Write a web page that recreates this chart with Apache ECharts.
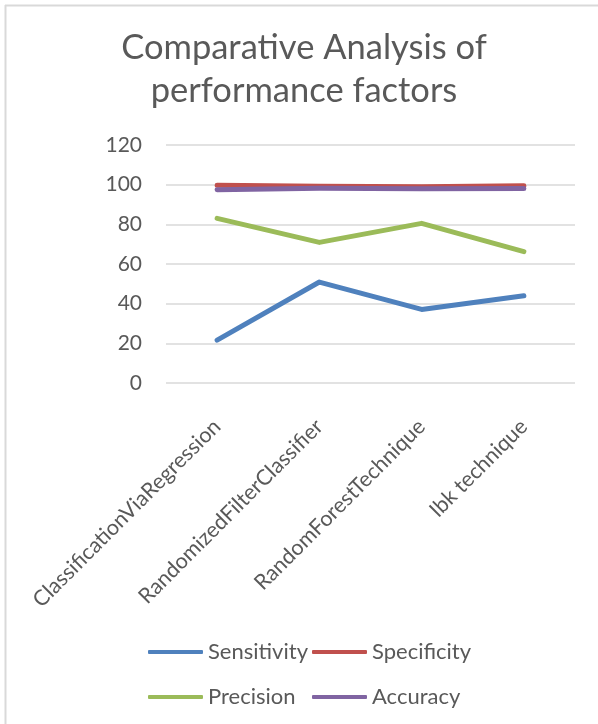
<!DOCTYPE html>
<html>
<head>
<meta charset="utf-8">
<script src="https://cdn.jsdelivr.net/npm/echarts@6/dist/echarts.min.js"></script>
<style>
  html, body { margin: 0; padding: 0; background: #ffffff; }
  #chart { width: 598px; height: 724px; }
</style>
</head>
<body>
<div id="chart"></div>
<script>
// Classifier names along the x axis
const categories = ['ClassificationViaRegression', 'RandomizedFilterClassifier', 'RandomForestTechnique', 'Ibk technique'];

// Performance factors per classifier (%)
const sensitivity = [21.6, 50.9, 37.1, 44.0];
const specificity = [99.7, 99.2, 99.0, 99.4];
const precision   = [83.0, 70.9, 80.5, 66.2];
const accuracy    = [97.4, 98.2, 97.9, 98.1];

// Value axis range
const yMin = 0, yMax = 120, yStep = 20;

const seriesNames = ['Sensitivity', 'Specificity', 'Precision', 'Accuracy'];
const seriesValues = [sensitivity, specificity, precision, accuracy];
const palette = ['#4f81bd', '#c0504d', '#9bbb59', '#8064a2'];

const FONT = 'Lato';
const TEXT = '#595959';

const chart = echarts.init(document.getElementById('chart'), null, { renderer: 'canvas' });

// one legend block per entry, laid out as a 2 x 2 grid
const legendPos = [
  { left: 148, top: 641 },
  { left: 312, top: 641 },
  { left: 148, top: 686 },
  { left: 312, top: 686 }
];

chart.setOption({
  animation: false,
  backgroundColor: '#ffffff',
  title: {
    text: 'Comparative Analysis of\nperformance factors',
    left: 304,
    textAlign: 'center',
    top: 26,
    padding: 0,
    textStyle: { fontFamily: FONT, fontSize: 34.5, fontWeight: 'normal', color: TEXT, lineHeight: 43 }
  },
  legend: seriesNames.map((n, i) => ({
    data: [n],
    left: legendPos[i].left,
    top: legendPos[i].top,
    padding: 0,
    itemWidth: 55,
    itemHeight: 4,
    itemGap: 0,
    icon: 'roundRect',
    textStyle: { fontFamily: FONT, fontSize: 22, color: TEXT }
  })),
  grid: { left: 166, right: 23, top: 145, bottom: 341, containLabel: false },
  xAxis: {
    type: 'category',
    data: categories,
    boundaryGap: true,
    axisLine: { show: false },
    axisTick: { show: false },
    axisLabel: {
      rotate: 45,
      interval: 0,
      margin: 40,
      fontFamily: FONT,
      fontSize: 21.5,
      color: TEXT
    }
  },
  yAxis: {
    type: 'value',
    min: yMin,
    max: yMax,
    interval: yStep,
    axisLine: { show: false },
    axisTick: { show: false },
    splitLine: { lineStyle: { color: '#d9d9d9', width: 1.5 } },
    axisLabel: { fontFamily: FONT, fontSize: 21, color: TEXT, margin: 24 }
  },
  series: seriesNames.map((n, i) => ({
    name: n,
    type: 'line',
    data: seriesValues[i],
    showSymbol: false,
    symbol: 'none',
    lineStyle: { color: palette[i], width: 5, cap: 'round', join: 'round' },
    itemStyle: { color: palette[i] }
  })),
  graphic: [
    { type: 'line', shape: { x1: 5, y1: 5.5, x2: 598, y2: 5.5 }, style: { stroke: '#d9d9d9', lineWidth: 2 }, silent: true },
    { type: 'line', shape: { x1: 5.5, y1: 5, x2: 5.5, y2: 724 }, style: { stroke: '#d9d9d9', lineWidth: 2 }, silent: true }
  ]
});
</script>
</body>
</html>
